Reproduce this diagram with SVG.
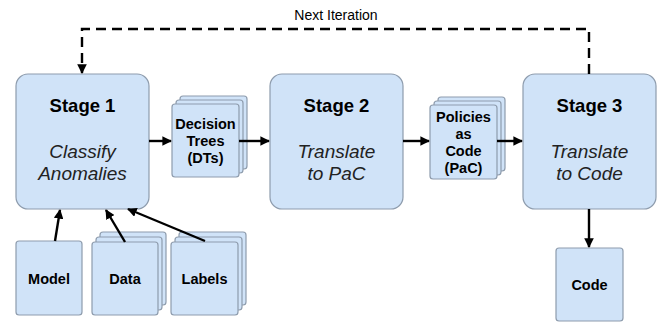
<svg xmlns="http://www.w3.org/2000/svg" width="661" height="323" viewBox="0 0 661 323">
<defs>
<style>
.box{fill:#d0e3f8;stroke:#8e9cad;stroke-width:1.2}
.t{font-family:"Liberation Sans",Arial,sans-serif;fill:#000;text-anchor:middle}
.h{font-size:18.5px;font-weight:bold}
.i{font-size:19px;font-style:italic;fill:#222}
.s{font-size:14.5px;font-weight:bold}
.c{stroke:#000;stroke-width:2.4;fill:none}
</style>
<marker id="ah" viewBox="0 0 10 10" refX="9" refY="5" markerWidth="4" markerHeight="4" orient="auto" markerUnits="strokeWidth">
<path d="M0,0 L10,5 L0,10 z" fill="#000"/>
</marker>
</defs>
<rect width="661" height="323" fill="#fff"/>
<g id="stage1">
<rect class="box" x="16" y="74" width="133" height="135" rx="12"/>
<text class="t h" x="82.5" y="112">Stage 1</text>
<text class="t i" x="82.5" y="158">Classify</text>
<text class="t i" x="82.5" y="180">Anomalies</text>
</g>
<g id="dts">
<rect class="box" x="180" y="96" width="67" height="73" rx="3"/>
<rect class="box" x="176" y="100" width="67" height="73" rx="3"/>
<rect class="box" x="172" y="104" width="67" height="73" rx="3"/>
<text class="t s" x="205.5" y="129">Decision</text>
<text class="t s" x="205.5" y="146">Trees</text>
<text class="t s" x="205.5" y="163">(DTs)</text>
</g>
<g id="stage2">
<rect class="box" x="270" y="74" width="133" height="135" rx="12"/>
<text class="t h" x="336.5" y="112">Stage 2</text>
<text class="t i" x="336.5" y="158">Translate</text>
<text class="t i" x="336.5" y="180">to PaC</text>
</g>
<g id="pac">
<rect class="box" x="438" y="97" width="67" height="74" rx="3"/>
<rect class="box" x="434" y="101" width="67" height="74" rx="3"/>
<rect class="box" x="430" y="105" width="67" height="74" rx="3"/>
<text class="t s" x="463.5" y="122">Policies</text>
<text class="t s" x="463.5" y="139">as</text>
<text class="t s" x="463.5" y="156">Code</text>
<text class="t s" x="463.5" y="173">(PaC)</text>
</g>
<g id="stage3">
<rect class="box" x="523" y="74" width="133" height="135" rx="12"/>
<text class="t h" x="589.5" y="112">Stage 3</text>
<text class="t i" x="589.5" y="158">Translate</text>
<text class="t i" x="589.5" y="180">to Code</text>
</g>
<g id="model">
<rect class="box" x="16" y="241" width="66" height="74" rx="3"/>
<text class="t s" x="49" y="284">Model</text>
</g>
<g id="data">
<rect class="box" x="100" y="232" width="66" height="73" rx="3"/>
<rect class="box" x="96" y="237" width="66" height="73" rx="3"/>
<rect class="box" x="92" y="242" width="66" height="73" rx="3"/>
<text class="t s" x="125" y="284">Data</text>
</g>
<g id="labels">
<rect class="box" x="179" y="232" width="67" height="73" rx="3"/>
<rect class="box" x="175" y="237" width="67" height="73" rx="3"/>
<rect class="box" x="171" y="242" width="67" height="73" rx="3"/>
<text class="t s" x="204.5" y="284">Labels</text>
</g>
<g id="code">
<rect class="box" x="556" y="248" width="67" height="73" rx="3"/>
<text class="t s" x="589.5" y="290">Code</text>
</g>
<g id="connectors">
<line class="c" x1="149" y1="141" x2="171" y2="141" marker-end="url(#ah)"/>
<line class="c" x1="239" y1="141" x2="269" y2="141" marker-end="url(#ah)"/>
<line class="c" x1="403" y1="141" x2="429" y2="141" marker-end="url(#ah)"/>
<line class="c" x1="497" y1="141" x2="522" y2="141" marker-end="url(#ah)"/>
<line class="c" x1="589" y1="209" x2="589" y2="247" marker-end="url(#ah)"/>
<line class="c" x1="55" y1="241" x2="60" y2="210" marker-end="url(#ah)"/>
<line class="c" x1="125" y1="242" x2="106" y2="210" marker-end="url(#ah)"/>
<line class="c" x1="205" y1="241" x2="128" y2="209" marker-end="url(#ah)"/>
<polyline class="c" points="589,74 589,29 82,29 82,73" stroke-dasharray="10,6" marker-end="url(#ah)"/>
<text class="t" x="336" y="20" font-size="14">Next Iteration</text>
</g>
</svg>
